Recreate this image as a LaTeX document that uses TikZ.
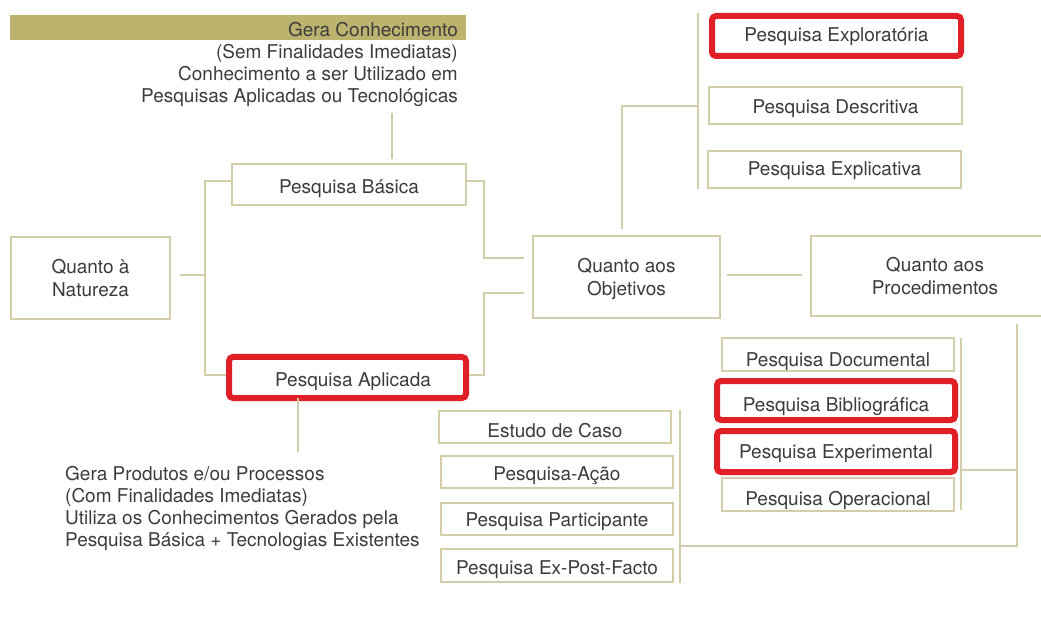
\documentclass[tikz,border=0pt]{standalone}
\usepackage{fontspec}
\setmainfont{TeX Gyre Heros}
\definecolor{linetan}{HTML}{D4CDAA}
\definecolor{bartan}{HTML}{BCB46E}
\definecolor{hired}{HTML}{E11F26}
\definecolor{txt}{HTML}{3C3C3C}
\tikzset{
  lbl/.style={font=\fontsize{19}{22.3}\selectfont, text=txt, inner sep=0pt},
  box/.style={lbl, draw=linetan, line width=1.5pt, fill=white, align=center},
  hibox/.style={box, draw=hired, line width=6pt, rounded corners=4pt},
  link/.style={draw=linetan, line width=1.5pt},
  % sets the baseline #1/2 below the box centre
  txtdrop/.style={text height=#1, text depth=0pt},
}
\begin{document}
\begin{tikzpicture}[x=1pt, y=-1pt]
\useasboundingbox (0,0) rectangle (1041,617);
\clip (0,0) rectangle (1041,617);

% banner behind the first note line
\fill[bartan] (10,15) rectangle (466,40);

% notes
\node[lbl, anchor=east, align=right] (nb) at (458,64.5)
  {Gera Conhecimento\\(Sem Finalidades Imediatas)\\Conhecimento a ser Utilizado em\\Pesquisas Aplicadas ou Tecnológicas};
\node[lbl, anchor=west, align=left] (na) at (65,508.5)
  {Gera Produtos e/ou Processos\\(Com Finalidades Imediatas)\\Utiliza os Conhecimentos Gerados pela\\Pesquisa Básica + Tecnologias Existentes};

% main categories
\node[box, minimum width=159pt, minimum height=82pt] (nat) at (90.5,278) {Quanto à\\Natureza};
\node[box, minimum width=187pt, minimum height=82pt] (obj) at (626.5,277) {\rule{0pt}{18pt}Quanto aos\\Objetivos};
\node[box, minimum width=248pt, minimum height=80pt] (proc) at (935,276) {Quanto aos\\Procedimentos};

% nature
\node[box, txtdrop=17.6pt, minimum width=234pt, minimum height=41pt] (bas) at (349,184.5) {Pesquisa Básica};
\node[hibox, txtdrop=17pt, minimum width=237pt, minimum height=41pt] (apl) at (347.5,377.5) {\hspace*{11pt}Pesquisa Aplicada};

% objectives
\node[hibox, txtdrop=11.4pt, minimum width=249pt, minimum height=40pt] (exo) at (836.5,36) {Pesquisa Exploratória};
\node[box, txtdrop=15.6pt, minimum width=253pt, minimum height=37pt] (des) at (835.5,105.5) {Pesquisa Descritiva};
\node[box, txtdrop=12.4pt, minimum width=253pt, minimum height=37pt] (exa) at (834.5,169.5) {Pesquisa Explicativa};

% procedures, right group
\node[box, txtdrop=24.4pt, minimum width=232pt, minimum height=33pt] (doc) at (838,354.5) {Pesquisa Documental};
\node[hibox, txtdrop=22.4pt, minimum width=238pt, minimum height=39pt] (bib) at (836,400.5) {Pesquisa Bibliográfica};
\node[hibox, txtdrop=13.6pt, minimum width=238pt, minimum height=41pt] (exp) at (836,451.5) {Pesquisa Experimental};
\node[box, txtdrop=22.4pt, minimum width=232pt, minimum height=33pt] (ope) at (838,494.5) {Pesquisa Operacional};

% procedures, left group
\node[box, txtdrop=21.4pt, minimum width=232pt, minimum height=32pt] (est) at (555,427) {Estudo de Caso};
\node[box, txtdrop=16pt, minimum width=232pt, minimum height=32pt] (aca) at (557,472) {Pesquisa-Ação};
\node[box, txtdrop=15.4pt, minimum width=232pt, minimum height=32pt] (par) at (557,519) {Pesquisa Participante};
\node[box, txtdrop=17pt, minimum width=232pt, minimum height=33pt] (epf) at (557,565.5) {Pesquisa Ex-Post-Facto};

% junction points
\coordinate (jn) at (205,275);
\coordinate (jr) at (484,181);
\coordinate (jo) at (622,106);
\coordinate (jx) at (698,106);
\coordinate (jp) at (1017,546);
\coordinate (jg) at (680,546);

% nature bracket
\draw[link, shorten <=9pt] (nat.east |- jn) -- (jn);
\draw[link] (bas.west |- 0,181) -| (jn) |- (apl.west |- 0,375);
\draw[link] (bas.east |- jr) -- (jr) |- ([xshift=-8pt]obj.west |- 0,258);
\draw[link] (apl.east |- 0,375) -| (484,293) -- ([xshift=-8pt]obj.west |- 0,293);
\draw[link] (392,113) -- ([yshift=4pt]bas.north -| 392,0);
\draw[link] ([yshift=3pt]apl.south -| 298,0) -- (298,452);

% objectives bracket
\draw[link, shorten <=6pt] (obj.north -| jo) -- (jo) -- (jx);
\draw[link] (jx |- exo.north) -- (jx |- exa.south);
\draw[link, shorten <=6pt, shorten >=8pt] (obj.east |- 0,275) -- (proc.west |- 0,275);

% procedures bracket
\draw[link, shorten <=7pt] (proc.south -| jp) -- (jp) -- (jg);
\draw[link] (jg |- est.north) -- (jg |- epf.south);
\draw[link] (961,338) -- (961,510);
\draw[link] (960,470) -- (jp |- 0,470);
\end{tikzpicture}
\end{document}
